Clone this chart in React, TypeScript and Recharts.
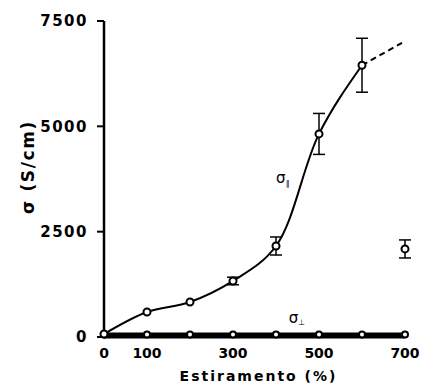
import React from "react";
import {
  ComposedChart, Line, Scatter, XAxis, YAxis, ErrorBar, ReferenceDot, Label,
} from "recharts";

// sigma paralelo (curva principal)
const strainPar = [0, 100, 200, 300, 400, 500, 600];
const sigmaPar = [70, 593, 830, 1330, 2160, 4820, 6450];
const sigmaParErr = [0, 0, 0, 90, 214, 486, 640];

// prolongamento tracejado
const strainExt = [600, 693];
const sigmaExt = [6450, 6980];

// ponto isolado em 700%
const strainIso = [700];
const sigmaIso = [2090];
const sigmaIsoErr = [214];

// sigma perpendicular
const strainPerp = [0, 100, 200, 300, 400, 500, 600, 700];
const sigmaPerp = [60, 60, 60, 60, 60, 60, 60, 60];

const xTicks = [0, 100, 300, 500, 700];
const yTicks = [0, 2500, 5000, 7500];

const parData = strainPar.map((x, i) => ({ x, y: sigmaPar[i], err: sigmaParErr[i] }));
const extData = strainExt.map((x, i) => ({ x, y: sigmaExt[i] }));
const isoData = strainIso.map((x, i) => ({ x, y: sigmaIso[i], err: sigmaIsoErr[i] }));
const perpData = strainPerp.map((x, i) => ({ x, y: sigmaPerp[i] }));

const FONT = "'DejaVu Sans', sans-serif";

// Catmull-Rom centripeta (alpha 0.5) com extremidades "naturais"
const ALPHA = 0.5;
const catmullRom = (context: any) => {
  let pts: number[][] = [];
  const dist = (a: number[], b: number[]) => Math.hypot(a[0] - b[0], a[1] - b[1]);
  const inner1 = (p0: number[], p1: number[], p2: number[]) => {
    const l01a = Math.pow(dist(p0, p1), ALPHA), l01_2a = l01a * l01a;
    const l12a = Math.pow(dist(p1, p2), ALPHA), l12_2a = l12a * l12a;
    const a = 2 * l01_2a + 3 * l01a * l12a + l12_2a;
    const n = 3 * l01a * (l01a + l12a);
    return [0, 1].map((k) => (p1[k] * a - p0[k] * l12_2a + p2[k] * l01_2a) / n);
  };
  const inner2 = (p1: number[], p2: number[], p3: number[]) => {
    const l12a = Math.pow(dist(p1, p2), ALPHA), l12_2a = l12a * l12a;
    const l23a = Math.pow(dist(p2, p3), ALPHA), l23_2a = l23a * l23a;
    const b = 2 * l23_2a + 3 * l23a * l12a + l12_2a;
    const m = 3 * l23a * (l23a + l12a);
    return [0, 1].map((k) => (p2[k] * b + p1[k] * l23_2a - p3[k] * l12_2a) / m);
  };
  return {
    areaStart() {},
    areaEnd() {},
    lineStart() { pts = []; },
    point(x: number, y: number) { pts.push([+x, +y]); },
    lineEnd() {
      if (!pts.length) return;
      context.moveTo(pts[0][0], pts[0][1]);
      if (pts.length === 2) { context.lineTo(pts[1][0], pts[1][1]); return; }
      for (let i = 0; i < pts.length - 1; i++) {
        const p0 = pts[i - 1], p1 = pts[i], p2 = pts[i + 1], p3 = pts[i + 2];
        let c1: number[], c2: number[];
        if (p0 && p3) {
          c1 = inner1(p0, p1, p2);
          c2 = inner2(p1, p2, p3);
        } else if (!p0) {
          c2 = inner2(p1, p2, p3);
          c1 = [0, 1].map((k) => p1[k] + (3 * (p2[k] - p1[k]) - 3 * (p2[k] - c2[k])) / 6);
        } else {
          c1 = inner1(p0, p1, p2);
          c2 = [0, 1].map((k) => p2[k] - (3 * (p2[k] - p1[k]) - 3 * (c1[k] - p1[k])) / 6);
        }
        context.bezierCurveTo(c1[0], c1[1], c2[0], c2[1], p2[0], p2[1]);
      }
    },
  };
};

const openDot = (r: number, sw: number) => (props: any) => {
  const { cx, cy, key } = props;
  if (cx == null || cy == null) return <g key={key} />;
  return <circle key={key} cx={cx} cy={cy} r={r} fill="#fff" stroke="#000" strokeWidth={sw} />;
};

export default function App() {
  return (
    <div style={{ position: "absolute", left: 0, top: 0, background: "#fff" }}>
      <ComposedChart
        width={429}
        height={386}
        margin={{ top: 21, right: 24, bottom: 19, left: 10 }}
      >
        <XAxis
          dataKey="x"
          type="number"
          domain={[0, 700]}
          ticks={xTicks}
          tickLine={false}
          axisLine={{ stroke: "#000", strokeWidth: 3 }}
          height={30}
          tickMargin={5}
          tick={{ fill: "#000", fontSize: 14, fontWeight: 700, fontFamily: FONT }}
          allowDuplicatedCategory={false}
        >
          <Label
            content={(p: any) => {
              const vb = p.viewBox;
              return (
                <text
                  x={vb.x + vb.width / 2 + 4}
                  y={vb.y + vb.height + 14}
                  textAnchor="middle"
                  fontFamily={FONT}
                  fontWeight={700}
                  fontSize={14}
                  letterSpacing={2}
                  fill="#000"
                >
                  Estiramento (%)
                </text>
              );
            }}
          />
        </XAxis>
        <YAxis
          type="number"
          domain={[0, 7500]}
          ticks={yTicks}
          width={94}
          tickSize={7}
          tickMargin={9}
          axisLine={{ stroke: "#000", strokeWidth: 2.5 }}
          tickLine={{ stroke: "#000", strokeWidth: 2 }}
          tick={{ fill: "#000", fontSize: 15, fontWeight: 700, fontFamily: FONT, letterSpacing: 1.5 }}
        >
          <Label
            content={(p: any) => {
              const vb = p.viewBox;
              const cx = vb.x + 18;
              const cy = vb.y + vb.height / 2 - 12;
              return (
                <text
                  x={cx}
                  y={cy}
                  transform={`rotate(-90 ${cx} ${cy})`}
                  textAnchor="middle"
                  dominantBaseline="central"
                  fontFamily={FONT}
                  fontWeight={700}
                  fontSize={17}
                  letterSpacing={1.6}
                  fill="#000"
                >
                  σ (S/cm)
                </text>
              );
            }}
          />
        </YAxis>

        <Line
          data={perpData}
          dataKey="y"
          type="linear"
          stroke="#000"
          strokeWidth={4}
          dot={openDot(3, 2)}
          isAnimationActive={false}
        />
        <Line
          data={extData}
          dataKey="y"
          type="linear"
          stroke="#000"
          strokeWidth={2}
          strokeDasharray="6 4"
          dot={false}
          isAnimationActive={false}
        />
        <Line
          data={parData}
          dataKey="y"
          type={catmullRom as any}
          stroke="#000"
          strokeWidth={2}
          dot={openDot(3.5, 2)}
          isAnimationActive={false}
        >
          <ErrorBar dataKey="err" direction="y" width={6} stroke="#000" strokeWidth={1.5} />
        </Line>
        <Scatter
          data={isoData}
          dataKey="y"
          shape={openDot(3.5, 2)}
          isAnimationActive={false}
        >
          <ErrorBar dataKey="err" direction="y" width={6} stroke="#000" strokeWidth={1.5} />
        </Scatter>

        <ReferenceDot
          x={416}
          y={3650}
          r={0}
          ifOverflow="visible"
          label={(p: any) => (
            <text x={p.viewBox.x} y={p.viewBox.y} fontFamily={FONT} fontSize={15} fill="#000" textAnchor="middle">
              σ<tspan fontSize={8} dy={3}>∥</tspan>
            </text>
          )}
        />
        <ReferenceDot
          x={449}
          y={330}
          r={0}
          ifOverflow="visible"
          label={(p: any) => (
            <text x={p.viewBox.x} y={p.viewBox.y} fontFamily={FONT} fontSize={15} fill="#000" textAnchor="middle">
              σ<tspan fontSize={8} dy={2}>⊥</tspan>
            </text>
          )}
        />
      </ComposedChart>
    </div>
  );
}
